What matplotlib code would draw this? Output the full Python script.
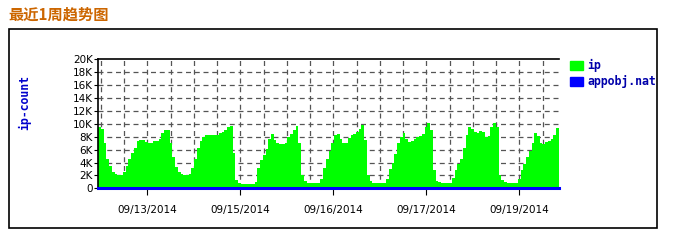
import matplotlib
matplotlib.use("Agg")
import matplotlib.pyplot as plt
from matplotlib.patches import Rectangle
import numpy as np

# hourly ip counts over one week (in thousands)
ip_k = [9.5, 9.2, 7.0, 4.6, 3.4, 2.6, 2.2, 2.1, 2.1, 2.6, 3.5, 4.6, 5.4, 6.3, 7.3, 7.5,
        7.5, 7.2, 7.0, 7.0, 7.3, 7.3, 7.6, 8.6, 9.1, 9.0, 7.1, 4.8, 3.3, 2.5, 2.2, 2.1,
        2.1, 2.2, 3.1, 4.6, 6.3, 7.3, 8.0, 8.3, 8.3, 8.3, 8.3, 8.3, 8.5, 8.7, 9.1, 9.5,
        9.6, 5.5, 1.3, 0.8, 0.7, 0.7, 0.7, 0.7, 0.7, 1.0, 3.2, 4.4, 5.1, 6.1, 7.7, 8.4,
        7.5, 7.0, 6.9, 6.9, 7.1, 7.9, 8.4, 9.1, 9.6, 7.0, 2.1, 1.1, 0.8, 0.8, 0.8, 0.8,
        0.8, 1.5, 3.1, 4.5, 5.8, 7.1, 8.3, 8.4, 7.6, 7.1, 7.1, 7.8, 8.2, 8.4, 8.8, 9.2,
        9.8, 7.5, 2.0, 1.2, 0.8, 0.8, 0.8, 0.8, 0.8, 1.5, 3.0, 4.0, 5.3, 7.0, 8.0, 8.5,
        7.6, 7.2, 7.4, 7.7, 8.0, 8.1, 8.4, 9.5, 10.2, 9.0, 2.9, 1.2, 0.9, 0.8, 0.8, 0.8,
        0.8, 1.6, 2.8, 3.7, 4.6, 6.2, 8.2, 9.5, 9.2, 8.7, 8.6, 8.9, 8.7, 7.9, 8.1, 9.5,
        10.2, 9.5, 2.1, 1.3, 0.9, 0.8, 0.8, 0.8, 0.8, 1.5, 2.8, 3.8, 4.9, 5.8, 7.1, 8.6,
        8.1, 7.0, 6.8, 7.2, 7.4, 7.6, 8.3, 9.3, 9.6]
nat_k = [0.0] * len(ip_k)

y_ticks = [0, 2, 4, 6, 8, 10, 12, 14, 16, 18, 20]
y_labels = ["0", "2K", "4K", "6K", "8K", "10K", "12K", "14K", "16K", "18K", "20K"]
x_labels = ["09/13/2014", "09/15/2014", "09/16/2014", "09/17/2014", "09/19/2014"]

ip = np.array(ip_k) * 1000
nat = np.array(nat_k) * 1000
hours = np.arange(len(ip))

# label ticks and grid spacing (hours)
first_tick = 17.87
tick_step = 33.92
grid_step = tick_step / 4

fig = plt.figure(figsize=(6.73, 2.41), dpi=100)
ax = fig.add_axes([0.146, 0.2187, 0.6845, 0.535])

ax.fill_between(hours, 0, ip, step="post", color="#00ff00", lw=0,
                antialiased=False, zorder=2)
ax.plot(hours, nat, color="#0000ff", lw=2.2, zorder=3, clip_on=False)

ax.set_xlim(0, 168)
ax.set_ylim(0, 20000)

ax.set_yticks([v * 1000 for v in y_ticks])
ax.set_yticklabels(y_labels, fontsize=7.5)
xt = [first_tick + tick_step * i for i in range(len(x_labels))]
ax.set_xticks(xt)
ax.set_xticklabels(x_labels, fontsize=7.5)
ax.tick_params(axis="y", length=3, width=0.8, pad=1)
ax.tick_params(axis="x", length=5, width=0.8, pad=7)

# dashed grid, kept under the area
gx = first_tick - 2 * grid_step
while gx < 168:
    ax.axvline(gx, color="#555555", lw=0.9, ls=(0, (4, 3)), zorder=0.5)
    gx += grid_step
for v in y_ticks[1:-1]:
    ax.axhline(v * 1000, color="#555555", lw=0.9, ls=(0, (4, 3)), zorder=0.5)

ax.spines["right"].set_visible(False)
ax.spines["bottom"].set_visible(False)
ax.spines["left"].set_linewidth(1.2)
ax.spines["top"].set_linewidth(1.2)

fig.text(0.037, 0.575, "ip-count", rotation=90, ha="center", va="center",
         family="DejaVu Sans Mono", weight="bold", fontsize=8.3, color="#0000cc")

# legend
fig.patches.append(Rectangle((570 / 673, 1 - 70 / 241), 13 / 673, 9.5 / 241,
                             transform=fig.transFigure, color="#00ff00"))
fig.patches.append(Rectangle((570 / 673, 1 - 86 / 241), 13 / 673, 9.5 / 241,
                             transform=fig.transFigure, color="#0000ff"))
fig.text(587 / 673, 1 - 65.5 / 241, "ip", va="center", ha="left",
         family="DejaVu Sans Mono", weight="bold", fontsize=8.3, color="#0000aa")
fig.text(587 / 673, 1 - 81.5 / 241, "appobj.nat", va="center", ha="left",
         family="DejaVu Sans Mono", weight="bold", fontsize=8.3, color="#0000aa")

# outer frame
fig.patches.append(Rectangle((8.5 / 673, 13.3 / 241), 648.5 / 673, 198.4 / 241,
                             transform=fig.transFigure, fill=False, ec="black", lw=1.2))

fig.text(8 / 673, 1 - 15 / 241, "最近1周趋势图", ha="left", va="center",
         family=["Noto Sans CJK SC", "DejaVu Sans"], weight="bold", fontsize=11,
         color="#cc6600")

fig.savefig("out.png", dpi=100)
